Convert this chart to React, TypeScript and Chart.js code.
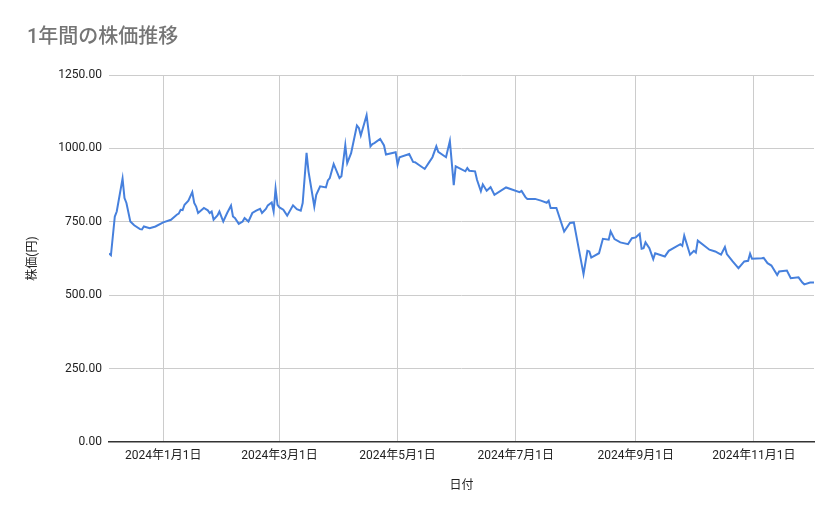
import React, { useEffect, useRef } from 'react';
import { Chart, registerables } from 'chart.js';

Chart.register(...registerables);

const dates = [
    '2023-12-04', '2023-12-05', '2023-12-07', '2023-12-08', '2023-12-11', '2023-12-12', '2023-12-13', '2023-12-15',
    '2023-12-17', '2023-12-20', '2023-12-21', '2023-12-22', '2023-12-25', '2023-12-28', '2024-01-01', '2024-01-05',
    '2024-01-08', '2024-01-09', '2024-01-10', '2024-01-11', '2024-01-12', '2024-01-14', '2024-01-16', '2024-01-17',
    '2024-01-18', '2024-01-19', '2024-01-22', '2024-01-24', '2024-01-25', '2024-01-26', '2024-01-27', '2024-01-29',
    '2024-01-30', '2024-02-01', '2024-02-03', '2024-02-05', '2024-02-06', '2024-02-07', '2024-02-09', '2024-02-11',
    '2024-02-12', '2024-02-14', '2024-02-16', '2024-02-18', '2024-02-20', '2024-02-21', '2024-02-23', '2024-02-24',
    '2024-02-26', '2024-02-27', '2024-02-28', '2024-02-29', '2024-03-01', '2024-03-03', '2024-03-05', '2024-03-08',
    '2024-03-10', '2024-03-12', '2024-03-13', '2024-03-15', '2024-03-16', '2024-03-19', '2024-03-20', '2024-03-22',
    '2024-03-25', '2024-03-26', '2024-03-27', '2024-03-29', '2024-04-01', '2024-04-02', '2024-04-04', '2024-04-05',
    '2024-04-07', '2024-04-10', '2024-04-11', '2024-04-12', '2024-04-15', '2024-04-17', '2024-04-18', '2024-04-19',
    '2024-04-22', '2024-04-24', '2024-04-25', '2024-04-30', '2024-05-01', '2024-05-02', '2024-05-07', '2024-05-09',
    '2024-05-10', '2024-05-15', '2024-05-17', '2024-05-19', '2024-05-21', '2024-05-22', '2024-05-26', '2024-05-28',
    '2024-05-30', '2024-05-31', '2024-06-05', '2024-06-06', '2024-06-07', '2024-06-10', '2024-06-11', '2024-06-13',
    '2024-06-14', '2024-06-16', '2024-06-18', '2024-06-20', '2024-06-26', '2024-07-03', '2024-07-04', '2024-07-06',
    '2024-07-07', '2024-07-11', '2024-07-14', '2024-07-17', '2024-07-18', '2024-07-19', '2024-07-22', '2024-07-26',
    '2024-07-29', '2024-07-31', '2024-08-05', '2024-08-07', '2024-08-08', '2024-08-09', '2024-08-13', '2024-08-15',
    '2024-08-18', '2024-08-19', '2024-08-21', '2024-08-24', '2024-08-28', '2024-08-30', '2024-09-01', '2024-09-03',
    '2024-09-04', '2024-09-05', '2024-09-06', '2024-09-08', '2024-09-10', '2024-09-11', '2024-09-16', '2024-09-18',
    '2024-09-24', '2024-09-25', '2024-09-26', '2024-09-29', '2024-10-01', '2024-10-02', '2024-10-03', '2024-10-09',
    '2024-10-12', '2024-10-15', '2024-10-17', '2024-10-18', '2024-10-21', '2024-10-24', '2024-10-27', '2024-10-29',
    '2024-10-30', '2024-10-31', '2024-11-05', '2024-11-06', '2024-11-08', '2024-11-10', '2024-11-13', '2024-11-14',
    '2024-11-18', '2024-11-20', '2024-11-24', '2024-11-26', '2024-11-27', '2024-11-30', '2024-12-02',
];

const prices = [
    642, 636, 768, 785, 897, 831, 814, 751,
    738, 725, 724, 734, 728, 734, 748, 757,
    774, 778, 791, 790, 808, 822, 851, 814,
    802, 780, 797, 789, 780, 785, 757, 772,
    785, 751, 780, 805, 768, 763, 743, 751,
    763, 751, 780, 788, 794, 780, 794, 806,
    816, 785, 863, 808, 799, 791, 771, 806,
    793, 788, 814, 985, 922, 802, 842, 871,
    867, 891, 899, 947, 899, 905, 1011, 950,
    984, 1078, 1070, 1044, 1113, 1007, 1015, 1018,
    1032, 1010, 979, 987, 945, 970, 981, 954,
    953, 930, 950, 970, 1007, 988, 970, 1025,
    875, 939, 922, 933, 924, 922, 893, 854,
    877, 856, 868, 842, 867, 851, 855, 834,
    828, 828, 822, 815, 822, 797, 797, 717,
    746, 748, 572, 651, 649, 628, 643, 692,
    689, 717, 691, 680, 674, 694, 697, 709,
    658, 660, 680, 660, 623, 643, 632, 651,
    674, 668, 703, 638, 651, 645, 686, 655,
    649, 638, 664, 640, 615, 592, 615, 617,
    641, 624, 626, 627, 609, 601, 569, 581,
    584, 558, 561, 543, 537, 543, 543,
];

const tickDates = ['2024-01-01', '2024-03-01', '2024-05-01', '2024-07-01', '2024-09-01', '2024-11-01'];
const yTicks = [0, 250, 500, 750, 1000, 1250];

const DAY = 86400000;
const toDay = (s: string) => {
    const [y, m, d] = s.split('-').map(Number);
    return Date.UTC(y, m - 1, d) / DAY;
};
const formatDay = (v: number) => {
    const dt = new Date(v * DAY);
    return `${dt.getUTCFullYear()}年${dt.getUTCMonth() + 1}月${dt.getUTCDate()}日`;
};

const FONT = "Roboto, 'Noto Sans CJK JP', sans-serif";

// chart title drawn by hand so it sits at the top-left like the sheet chart
const titlePlugin = {
    id: 'sheetTitle',
    afterDraw(chart: Chart) {
        const ctx = chart.ctx;
        ctx.save();
        ctx.fillStyle = '#757575';
        ctx.font = `500 20px ${FONT}`;
        ctx.textBaseline = 'middle';
        ctx.textAlign = 'left';
        ctx.fillText('1年間の株価推移', 27, 38);
        ctx.restore();
    },
};

const App: React.FC = () => {
    const canvasRef = useRef<HTMLCanvasElement | null>(null);
    const chartRef = useRef<Chart | null>(null);

    useEffect(() => {
        if (!canvasRef.current) return;
        if (chartRef.current) chartRef.current.destroy();

        const points = dates.map((d, i) => ({ x: toDay(d), y: prices[i] }));

        chartRef.current = new Chart(canvasRef.current, {
            type: 'line',
            data: {
                datasets: [{
                    label: '株価',
                    data: points,
                    borderColor: '#4680dd',
                    borderWidth: 2,
                    pointRadius: 0,
                    tension: 0,
                    fill: false,
                }],
            },
            options: {
                animation: false,
                responsive: true,
                maintainAspectRatio: false,
                layout: { padding: { left: 0, right: 25, top: 75, bottom: 0 } },
                plugins: {
                    legend: { display: false },
                    tooltip: { enabled: false },
                },
                scales: {
                    x: {
                        type: 'linear',
                        min: toDay(dates[0]),
                        max: toDay(dates[dates.length - 1]),
                        afterBuildTicks: (scale: any) => {
                            scale.ticks = tickDates.map(d => ({ value: toDay(d) }));
                        },
                        afterFit: (scale: any) => { scale.height = 77; },
                        ticks: {
                            autoSkip: false,
                            maxRotation: 0,
                            padding: 7,
                            color: '#222222',
                            font: { family: FONT, size: 12 },
                            callback: (v: any) => formatDay(Number(v)),
                        },
                        grid: { color: '#cccccc', drawTicks: false },
                        border: { display: true, color: '#333333', width: 1.5 },
                        title: {
                            display: true,
                            text: '日付',
                            color: '#222222',
                            font: { family: FONT, size: 12 },
                            padding: { top: 0, bottom: 26 },
                        },
                    },
                    y: {
                        min: 0,
                        max: 1250,
                        afterBuildTicks: (scale: any) => {
                            scale.ticks = yTicks.map(v => ({ value: v }));
                        },
                        afterFit: (scale: any) => { scale.width = 109; },
                        ticks: {
                            padding: 7,
                            color: '#222222',
                            font: { family: FONT, size: 12 },
                            callback: (v: any) => Number(v).toFixed(2),
                        },
                        grid: {
                            color: (c: any) => (c.tick && c.tick.value === 0 ? 'rgba(0,0,0,0)' : '#cccccc'),
                            drawTicks: false,
                        },
                        border: { display: false },
                        title: {
                            display: true,
                            text: '株価(円)',
                            color: '#222222',
                            font: { family: FONT, size: 12 },
                            padding: { top: 26, bottom: 0 },
                        },
                    },
                },
            },
            plugins: [titlePlugin],
        });

        return () => {
            if (chartRef.current) {
                chartRef.current.destroy();
                chartRef.current = null;
            }
        };
    }, []);

    return (
        <div style={{ position: 'fixed', left: 0, top: 0, width: 839, height: 519, background: '#ffffff' }}>
            <canvas ref={canvasRef} />
        </div>
    );
};

export default App;
